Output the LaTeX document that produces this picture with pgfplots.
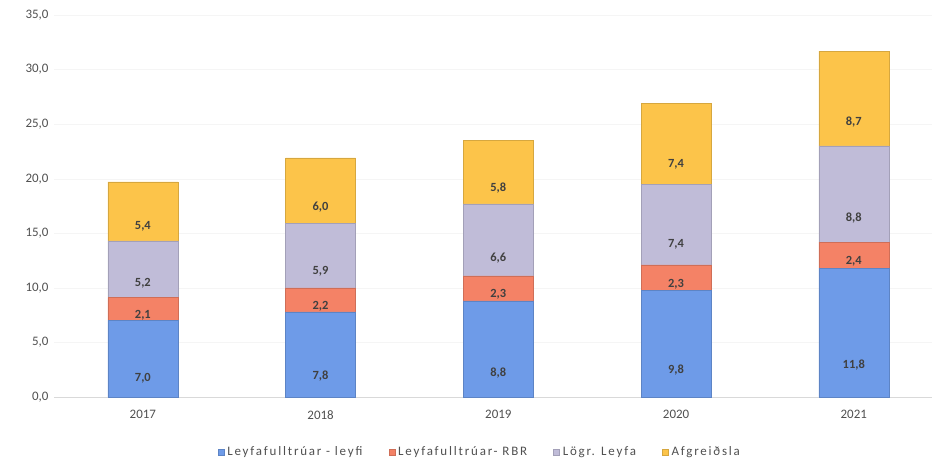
\documentclass[border=0pt]{standalone}
\usepackage{fontspec}
\setmainfont{Carlito}
\newfontfamily\legfont[LetterSpace=14]{Carlito}
\usepackage{pgfplots}
\pgfplotsset{compat=1.18}
\definecolor{cblue}{RGB}{110,155,232}
\definecolor{cred}{RGB}{244,130,102}
\definecolor{clav}{RGB}{192,188,216}
\definecolor{cyel}{RGB}{252,196,74}
\definecolor{tickgray}{RGB}{80,80,80}
\definecolor{lblgray}{RGB}{64,64,64}
\begin{document}
\begin{tikzpicture}
\path[use as bounding box] (-54bp,-68bp) rectangle (878bp,397bp);
\begin{axis}[
  scale only axis,
  width=878bp, height=382bp,
  ybar stacked, bar width=70bp,
  xmin=-0.5, xmax=4.44,
  ymin=0, ymax=35,
  ytick={0,5,...,35},
  xtick={0,1,2,3,4},
  xticklabels={2017,2018,2019,2020,2021},
  axis x line*=bottom,
  axis y line*=left,
  x axis line style={draw=black!15, line width=0.8pt, -},
  y axis line style={draw=none},
  major tick length=0pt,
  ymajorgrids, grid style={draw=black!4},
  yticklabels={0{,}0,5{,}0,10{,}0,15{,}0,20{,}0,25{,}0,30{,}0,35{,}0},
  ticklabel style={font=\fontsize{13}{15}\selectfont, text=tickgray},
  yticklabel style={xshift=-2bp},
  xticklabel style={yshift=-10bp},
  /pgf/number format/assume math mode=true,
  /pgf/number format/.cd, fixed, fixed zerofill, precision=1, use comma, /pgfplots/.cd,
  visualization depends on=rawy \as \rawy,
  nodes near coords={\pgfmathprintnumber{\rawy}},
  every node near coord/.append style={anchor=center, shift={(axis direction cs:0,-\rawy/4)}, font=\fontsize{12.5}{15}\selectfont\bfseries, text=lblgray},
  legend style={at={(0.485,-0.144)}, anchor=center, draw=none, legend columns=4,
    font=\fontsize{13}{15}\selectfont\legfont, text=tickgray,
    /tikz/every even column/.append style={column sep=24bp},
    /tikz/every odd column/.append style={column sep=1bp}},
  legend image code/.code={\fill[#1] (0bp,-3bp) rectangle (6bp,3bp);},
]
\addplot[fill=cblue, draw=cblue!85!black, line width=0.6pt] coordinates {(0,7.0) (1,7.8) (2,8.8) (3,9.8) (4,11.8)};
\addplot[fill=cred, draw=cred!85!black, line width=0.6pt] coordinates {(0,2.1) (1,2.2) (2,2.3) (3,2.3) (4,2.4)};
\addplot[fill=clav, draw=clav!85!black, line width=0.6pt] coordinates {(0,5.2) (1,5.9) (2,6.6) (3,7.4) (4,8.8)};
\addplot[fill=cyel, draw=cyel!85!black, line width=0.6pt] coordinates {(0,5.4) (1,6.0) (2,5.8) (3,7.4) (4,8.7)};
\legend{Leyfafulltrúar - leyfi, Leyfafulltrúar- RBR, Lögr. Leyfa, Afgreiðsla}
\end{axis}
\end{tikzpicture}
\end{document}
